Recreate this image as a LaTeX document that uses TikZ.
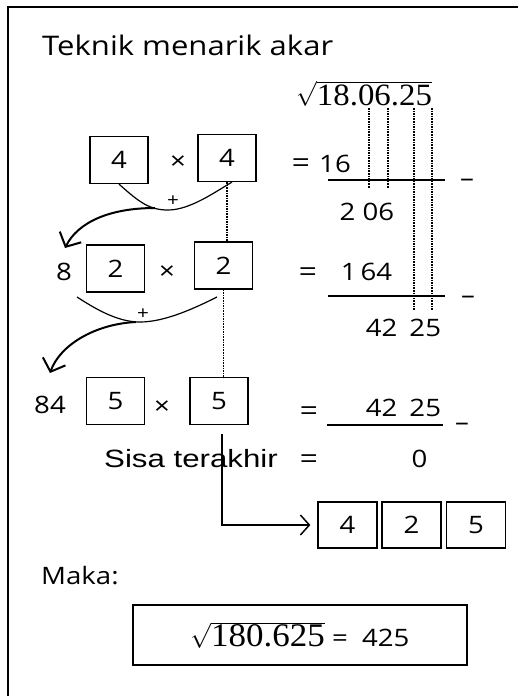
\documentclass[tikz,border=0pt]{standalone}
\usepackage{fontspec}
\setmainfont{Open Sans}[FakeStretch=1.15]
\newfontfamily\serif{Liberation Serif}[FakeStretch=1.06]
\newfontfamily\arial{Liberation Sans}[FakeStretch=1.25]
\usetikzlibrary{arrows.meta}

\newcommand\rt[1]{$\sqrt{\mbox{\serif #1}}$}

\tikzset{
  digitbox/.style={draw,line width=1.2pt,minimum width=58pt,minimum height=47pt,
    inner sep=0pt,font=\fontsize{24}{28}\selectfont},
  txt/.style={inner sep=0pt,font=\fontsize{24}{28}\selectfont},
  eqsign/.style={inner sep=0pt,font=\fontsize{24}{28}\arial},
  guide/.style={densely dotted,line width=1.6pt},
  bar/.style={line width=1.2pt},
  carry/.style={line width=2pt,-{Straight Barb[length=11pt,width=24pt,line width=2pt]}}
}

\begin{document}
\begin{tikzpicture}[x=1pt,y=-1pt]

\useasboundingbox (0,0) rectangle (518,696);
\draw[line width=2pt] (8,696) -- (8,7) -- (518,7);

\node[txt,anchor=base west,font=\fontsize{27}{32}\selectfont] (title) at (42,55) {Teknik menarik akar};
\node[txt,anchor=base west,font=\fontsize{31}{36}\selectfont] (root) at (296,105) {\rt{18.06.25}};

% digit guides under the radicand
\foreach \x/\y in {369/188,388/188,414/310,432/310}
  \draw[guide] (\x,108) -- (\x,\y);

% first digit
\node[digitbox] (a1) at (119,160) {4};
\node[txt] (x1) at (178,163) {×};
\node[digitbox] (b1) at (227,158) {4};
\node[eqsign] (e1) at (301,165) {=};
\node[txt] (r1) at (335,164) {16};
\draw[bar] (328,180) -- (445,180);
\node[txt] (m1) at (467,183) {–};
\node[txt] (d1) at (367,212) {2 06};

\draw[bar] (a1.south) .. controls (140,203) and (150,210) .. (168,210)
  .. controls (190,210) and (215,192) .. ([xshift=5pt]b1.south);
\node[txt,font=\fontsize{18}{20}\selectfont] (p1) at (173,201) {+};
\draw[carry] (155,208) .. controls (110,208) and (78,222) .. (65,248);
\draw[guide] (b1.south) -- (b1.south |- 0,242);

% second digit
\node[txt] (c2) at (64,272) {8};
\node[digitbox] (a2) at (115.5,268.5) {2};
\node[txt] (x2) at (167,273) {×};
\node[digitbox] (b2) at (223.5,265.5) {2};
\node[eqsign] (e2) at (308,274) {=};
\node[txt] (r2) at (366.5,272) {1\,64};
\draw[bar] (328,296) -- (445,296);
\node[txt] (m2) at (468,300) {–};
\node[txt] (d2) at (403.5,328) {42\enspace 25};

\draw[bar] (77,297) .. controls (100,312) and (120,322) .. (140,322)
  .. controls (165,322) and (195,308) .. (217,297);
\node[txt,font=\fontsize{18}{20}\selectfont] (p2) at (143,314) {+};
\draw[carry] (136,322) .. controls (95,324) and (60,345) .. (50,373);
\draw[guide] (b2.south) -- (b2.south |- 0,378);

% third digit
\node[txt] (c3) at (50,405) {84};
\node[digitbox] (a3) at (115.5,401) {5};
\node[txt] (x3) at (162,408) {×};
\node[digitbox] (b3) at (219,401) {5};
\node[eqsign] (e3) at (309,413) {=};
\node[txt] (r3) at (403.5,408) {42\enspace 25};
\draw[bar] (327,425) -- (443,425);
\node[txt] (m3) at (462,427) {–};

\node[eqsign,anchor=base west,font=\fontsize{25}{30}\arial] (rest) at (104,467) {Sisa terakhir};
\node[eqsign] (e4) at (309,461) {=};
\node[txt] (r4) at (419.5,459) {0};

% collected digits
\node[digitbox,minimum height=46pt,minimum width=59pt] (s1) at (347.5,525) {4};
\node[digitbox,minimum height=46pt,minimum width=59pt] (s2) at (411.5,525) {2};
\node[digitbox,minimum height=46pt,minimum width=59pt] (s3) at (476,525) {5};
\draw[line width=1.5pt,-{Straight Barb[length=9pt,width=20pt,line width=1.5pt]},shorten >=7pt]
  ([xshift=3pt,yshift=-9pt]b3.south) |- (s1.west);

\node[txt,anchor=base west] (maka) at (41,584) {Maka:};
\node[draw,line width=1.2pt,minimum width=334pt,minimum height=60pt,txt] (ans) at (300,635)
  {\fontsize{33}{38}\selectfont\rt{180.625}\fontsize{24}{28}\selectfont\ = \ 425};

\end{tikzpicture}
\end{document}
